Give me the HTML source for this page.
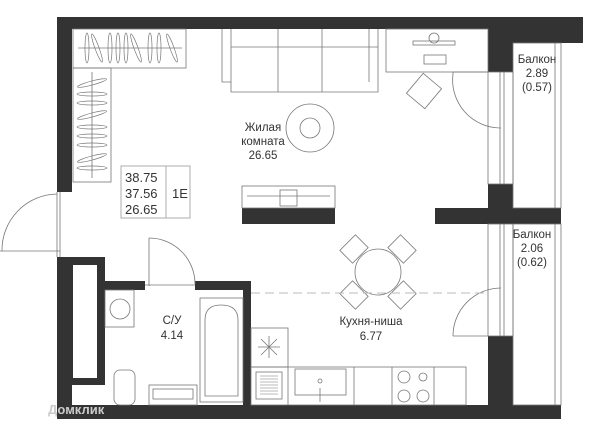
<!DOCTYPE html>
<html><head><meta charset="utf-8"><style>
html,body{margin:0;padding:0;background:#fff;}
svg{display:block;}
text{font-family:"Liberation Sans","DejaVu Sans",sans-serif;fill:#333;}
</style></head><body>
<svg width="600" height="436" viewBox="0 0 600 436" xmlns="http://www.w3.org/2000/svg">
<g fill="#333">
<rect x="57" y="17" width="526" height="12"/>
<rect x="488" y="17" width="95" height="26"/>
<rect x="57" y="17" width="15" height="175"/>
<rect x="57" y="257" width="48" height="128"/>
<rect x="57" y="257" width="15" height="162"/>
<rect x="57" y="405" width="504" height="14"/>
<rect x="105" y="281" width="40" height="9"/>
<rect x="195" y="281" width="56" height="9"/>
<rect x="243" y="281" width="8" height="124"/>
<rect x="488" y="29" width="25" height="43"/>
<rect x="488" y="184" width="25" height="40"/>
<rect x="435" y="208" width="126" height="16"/>
<rect x="242" y="208" width="93" height="16"/>
<rect x="488" y="336" width="25" height="69"/>
</g>
<rect x="73" y="265" width="24" height="113" fill="#fff"/>
<g fill="none" stroke="#777" stroke-width="0.8">
<rect x="513" y="43" width="48" height="165"/>
<line x1="555" y1="43" x2="555" y2="208"/>
<rect x="513" y="224" width="48" height="181"/>
<line x1="555" y1="224" x2="555" y2="405"/>
<rect x="488" y="72" width="25" height="112"/>
<line x1="500" y1="72" x2="500" y2="184"/>
<line x1="504" y1="72" x2="504" y2="184"/>
<rect x="488" y="224" width="25" height="112"/>
<line x1="500" y1="224" x2="500" y2="336"/>
<line x1="504" y1="224" x2="504" y2="336"/>
<path d="M453 72 L453 74 A48 48 0 0 0 501 128"/>
<line x1="453" y1="72" x2="488" y2="72"/>
<path d="M453 336 A48 48 0 0 1 501 288"/>
<line x1="453" y1="336" x2="488" y2="336"/>
<line x1="0" y1="251" x2="60" y2="251"/>
<path d="M2 251 A56 56 0 0 1 57 194"/>
<line x1="57" y1="192" x2="57" y2="257"/>
<line x1="60" y1="192" x2="60" y2="257"/>
<line x1="149" y1="238" x2="149" y2="286"/>
<path d="M149 238 A46 46 0 0 1 195 284"/>
<line x1="145" y1="285" x2="195" y2="285"/>
<rect x="73" y="29" width="113" height="39"/>
<line x1="78" y1="48" x2="182" y2="48"/>
<g stroke-width="0.7">
<ellipse cx="87" cy="48" rx="2" ry="15"/>
<ellipse cx="97" cy="48" rx="2" ry="15" transform="rotate(-20 97 48)"/>
<ellipse cx="110" cy="48" rx="2" ry="15"/>
<ellipse cx="118" cy="48" rx="2" ry="15"/>
<ellipse cx="126" cy="48" rx="2" ry="15"/>
<ellipse cx="136" cy="48" rx="2" ry="15" transform="rotate(-20 136 48)"/>
<ellipse cx="150" cy="48" rx="2" ry="15"/>
<ellipse cx="159" cy="48" rx="2" ry="15"/>
<ellipse cx="172" cy="48" rx="2" ry="15" transform="rotate(-20 172 48)"/>
<ellipse cx="92" cy="83" rx="15" ry="2" transform="rotate(-15 92 83)"/>
<ellipse cx="92" cy="94" rx="15" ry="2"/>
<ellipse cx="92" cy="103" rx="15" ry="2"/>
<ellipse cx="92" cy="115" rx="15" ry="2" transform="rotate(-15 92 115)"/>
<ellipse cx="92" cy="127" rx="15" ry="2"/>
<ellipse cx="92" cy="136" rx="15" ry="2"/>
<ellipse cx="92" cy="145" rx="15" ry="2"/>
<ellipse cx="92" cy="158" rx="15" ry="2" transform="rotate(-15 92 158)"/>
<ellipse cx="92" cy="168" rx="15" ry="2"/>
</g>
<rect x="73" y="68" width="38" height="114"/>
<line x1="92" y1="72" x2="92" y2="178"/>
<path d="M222 29 V82 H231 V92 H378 V29"/>
<line x1="231" y1="29" x2="231" y2="82"/>
<line x1="231" y1="47" x2="378" y2="47"/>
<line x1="278" y1="29" x2="278" y2="92"/>
<line x1="322" y1="29" x2="322" y2="92"/>
<line x1="369" y1="29" x2="369" y2="82"/>
<rect x="386" y="29" width="102" height="43"/>
<rect x="413" y="41" width="42" height="4"/>
<circle cx="434" cy="38" r="5"/>
<rect x="424" y="55" width="22" height="9"/>
<rect x="412" y="78" width="24" height="26" transform="rotate(40 424 91)"/>
<circle cx="310" cy="128" r="24"/>
<circle cx="310" cy="128" r="10"/>
<rect x="242" y="186" width="93" height="22"/>
<line x1="247" y1="196" x2="330" y2="196"/>
<rect x="280" y="190" width="17" height="16"/>
<circle cx="378" cy="272" r="23"/>
<rect x="343" y="240" width="22" height="18" transform="rotate(-45 354 249)"/>
<rect x="391" y="240" width="22" height="18" transform="rotate(45 402 249)"/>
<rect x="343" y="286" width="22" height="18" transform="rotate(45 354 295)"/>
<rect x="391" y="286" width="22" height="18" transform="rotate(-45 402 295)"/>
<rect x="251" y="328" width="37" height="39"/>
<rect x="251" y="367" width="215" height="38"/>
<line x1="288" y1="367" x2="288" y2="405"/>
<line x1="354" y1="367" x2="354" y2="405"/>
<line x1="392" y1="367" x2="392" y2="405"/>
<line x1="434" y1="367" x2="434" y2="405"/>
<rect x="256" y="372" width="26" height="27"/>
<rect x="295" y="369" width="51" height="26"/>
<circle cx="320" cy="381" r="2"/>
<line x1="320" y1="388" x2="320" y2="402"/>
<circle cx="404" cy="377" r="6"/><circle cx="404" cy="396" r="6"/>
<circle cx="423" cy="377" r="4"/><circle cx="423" cy="396" r="6"/>
<line x1="258" y1="347" x2="280" y2="347"/><line x1="269" y1="336" x2="269" y2="358"/>
<line x1="261" y1="339" x2="277" y2="355"/><line x1="277" y1="339" x2="261" y2="355"/>
<rect x="105" y="290" width="29" height="37"/>
<circle cx="120" cy="309" r="10"/>
<rect x="200" y="298" width="43" height="104"/>
<path d="M205 396 V320 Q205 305 221 305 Q238 305 238 320 V396 Z"/>
<rect x="114" y="370" width="21" height="35" rx="6"/>
<rect x="149" y="385" width="48" height="20"/>
<rect x="153" y="389" width="40" height="10"/>
</g>
<g fill="none" stroke="#777" stroke-width="0.5">
<line x1="260" y1="376" x2="278" y2="376"/><line x1="260" y1="379" x2="278" y2="379"/>
<line x1="260" y1="382" x2="278" y2="382"/><line x1="260" y1="385" x2="278" y2="385"/>
<line x1="260" y1="388" x2="278" y2="388"/><line x1="260" y1="391" x2="278" y2="391"/>
<line x1="260" y1="394" x2="278" y2="394"/>
</g>
<line x1="251" y1="293" x2="488" y2="293" stroke="#bbb" stroke-width="1" stroke-dasharray="9,5"/>
<g fill="none" stroke="#999" stroke-width="0.8">
<rect x="121" y="166" width="69" height="52"/>
<line x1="166" y1="166" x2="166" y2="218"/>
</g>
<g font-size="13">
<text x="125" y="182">38.75</text>
<text x="125" y="198">37.56</text>
<text x="125" y="214">26.65</text>
<text x="172" y="198">1E</text>
</g>
<g font-size="11.5" text-anchor="middle">
<text x="263" y="131">Жилая</text>
<text x="263" y="145">комната</text>
<text x="263" y="159">26.65</text>
<text x="537" y="63">Балкон</text>
<text x="537" y="77">2.89</text>
<text x="537" y="91">(0.57)</text>
<text x="532" y="238">Балкон</text>
<text x="532" y="252">2.06</text>
<text x="532" y="266">(0.62)</text>
<text x="172" y="324">С/У</text>
<text x="172" y="339">4.14</text>
<text x="371" y="325">Кухня-ниша</text>
<text x="371" y="340">6.77</text>
</g>
<text x="48" y="414" font-size="13" font-weight="bold" style="fill:#ccc">Домклик</text>
</svg>
</body></html>
